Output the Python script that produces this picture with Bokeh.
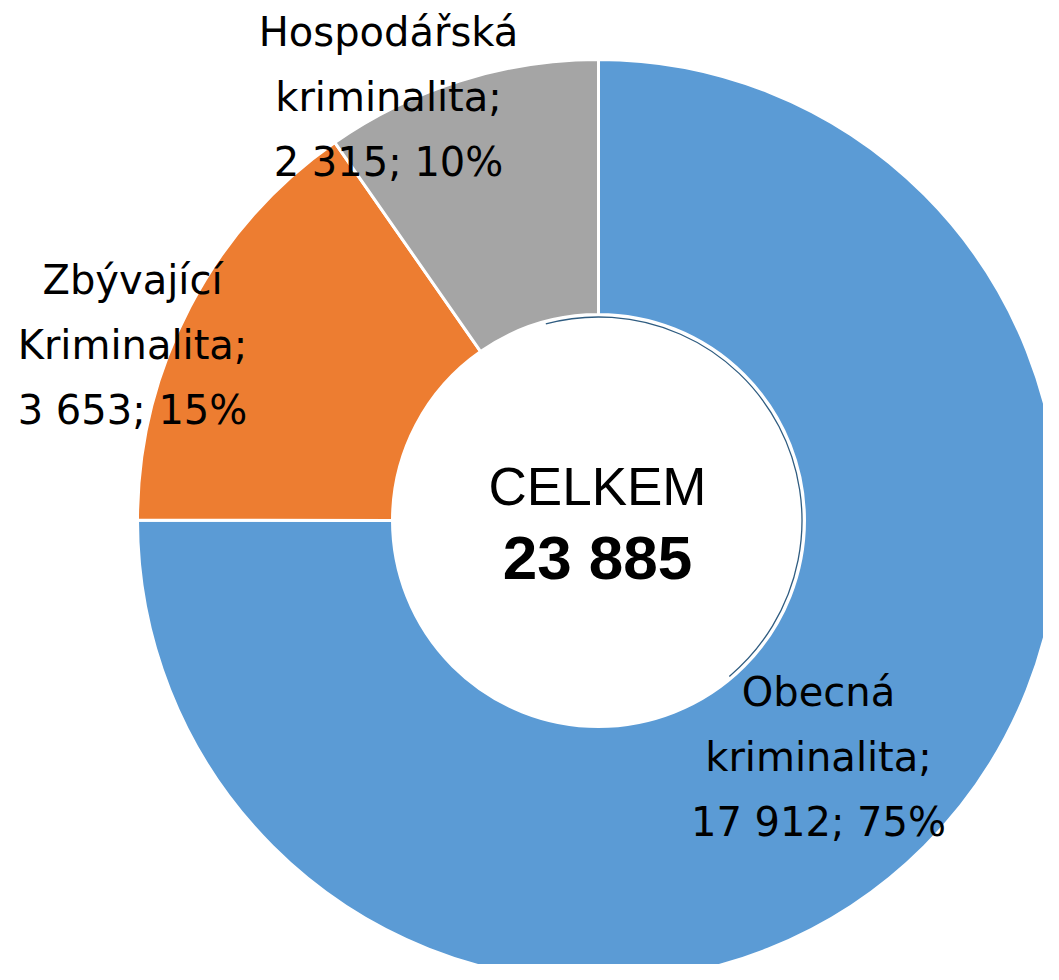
import math
from bokeh.plotting import figure
from bokeh.models import Range1d, ColumnDataSource
from bokeh.core.properties import value
from bokeh.embed import file_html
from bokeh.resources import INLINE

# ---- data ----
categories = ["Obecná kriminalita", "Zbývající Kriminalita", "Hospodářská kriminalita"]
values = [17912, 3653, 2315]
colors = ["#5B9BD5", "#ED7D31", "#A5A5A5"]
total_title = "CELKEM"
total_count = 23885  # total as printed in the chart centre

# ---- layout (pixels inside the figure) ----
W, H = 1043, 964
cx, cy = 598, 444
r_out, r_in = 461, 206
# first-line baseline anchor of each data label (x, y)
label_anchor = [(818, 273), (132, 685), (388, 933)]
line_pitch = 65


def fmt(v):
    return f"{v:,}".replace(",", " ")


total = sum(values)
starts, ends = [], []
cum = 0
for v in values:
    a0 = math.pi / 2 - 2 * math.pi * cum / total
    cum += v
    a1 = math.pi / 2 - 2 * math.pi * cum / total
    starts.append(a1)
    ends.append(a0)

src = ColumnDataSource(dict(start=starts, end=ends, color=colors))

p = figure(width=W, height=H, x_range=Range1d(0, W), y_range=Range1d(0, H),
           output_backend="svg", toolbar_location=None,
           x_axis_type=None, y_axis_type=None, min_border=0,
           outline_line_color=None, background_fill_color="white",
           border_fill_color="white")
p.xgrid.visible = False
p.ygrid.visible = False

p.annular_wedge(x=cx, y=cy, inner_radius=r_in, outer_radius=r_out,
                start_angle="start", end_angle="end", fill_color="color",
                line_color="white", line_width=3, source=src)

# subtle dark edge of the inner circle (shadow on the right side)
p.arc(x=cx, y=cy, radius=r_in - 2.5, start_angle=math.radians(-50),
      end_angle=math.radians(105), line_color="#2F5C80", line_width=1.3)

# centre texts
p.text(x=[cx - 1], y=[478], text=[total_title], text_font=value("Liberation Sans"),
       text_font_size="53px", text_align="center", text_baseline="alphabetic",
       text_color="black")
p.text(x=[cx - 1], y=[407], text=[fmt(total_count)], text_font=value("Liberation Sans"),
       text_font_size="62px", text_font_style="bold", text_align="center",
       text_baseline="alphabetic", text_color="black")

# data labels
lx, ly, lt = [], [], []
for name, v, (ax, ay) in zip(categories, values, label_anchor):
    first, second = name.split(" ", 1)
    pct = round(v / total_count * 100)
    lines = [first, second + ";", f"{fmt(v)}; {pct}%"]
    for k, t in enumerate(lines):
        lx.append(ax)
        ly.append(ay - k * line_pitch)
        lt.append(t)

p.text(x=lx, y=ly, text=lt, text_font=value("DejaVu Sans"), text_font_size="40px",
       text_align="center", text_baseline="alphabetic", text_color="black")

open("out.html", "w").write(file_html(p, INLINE))
